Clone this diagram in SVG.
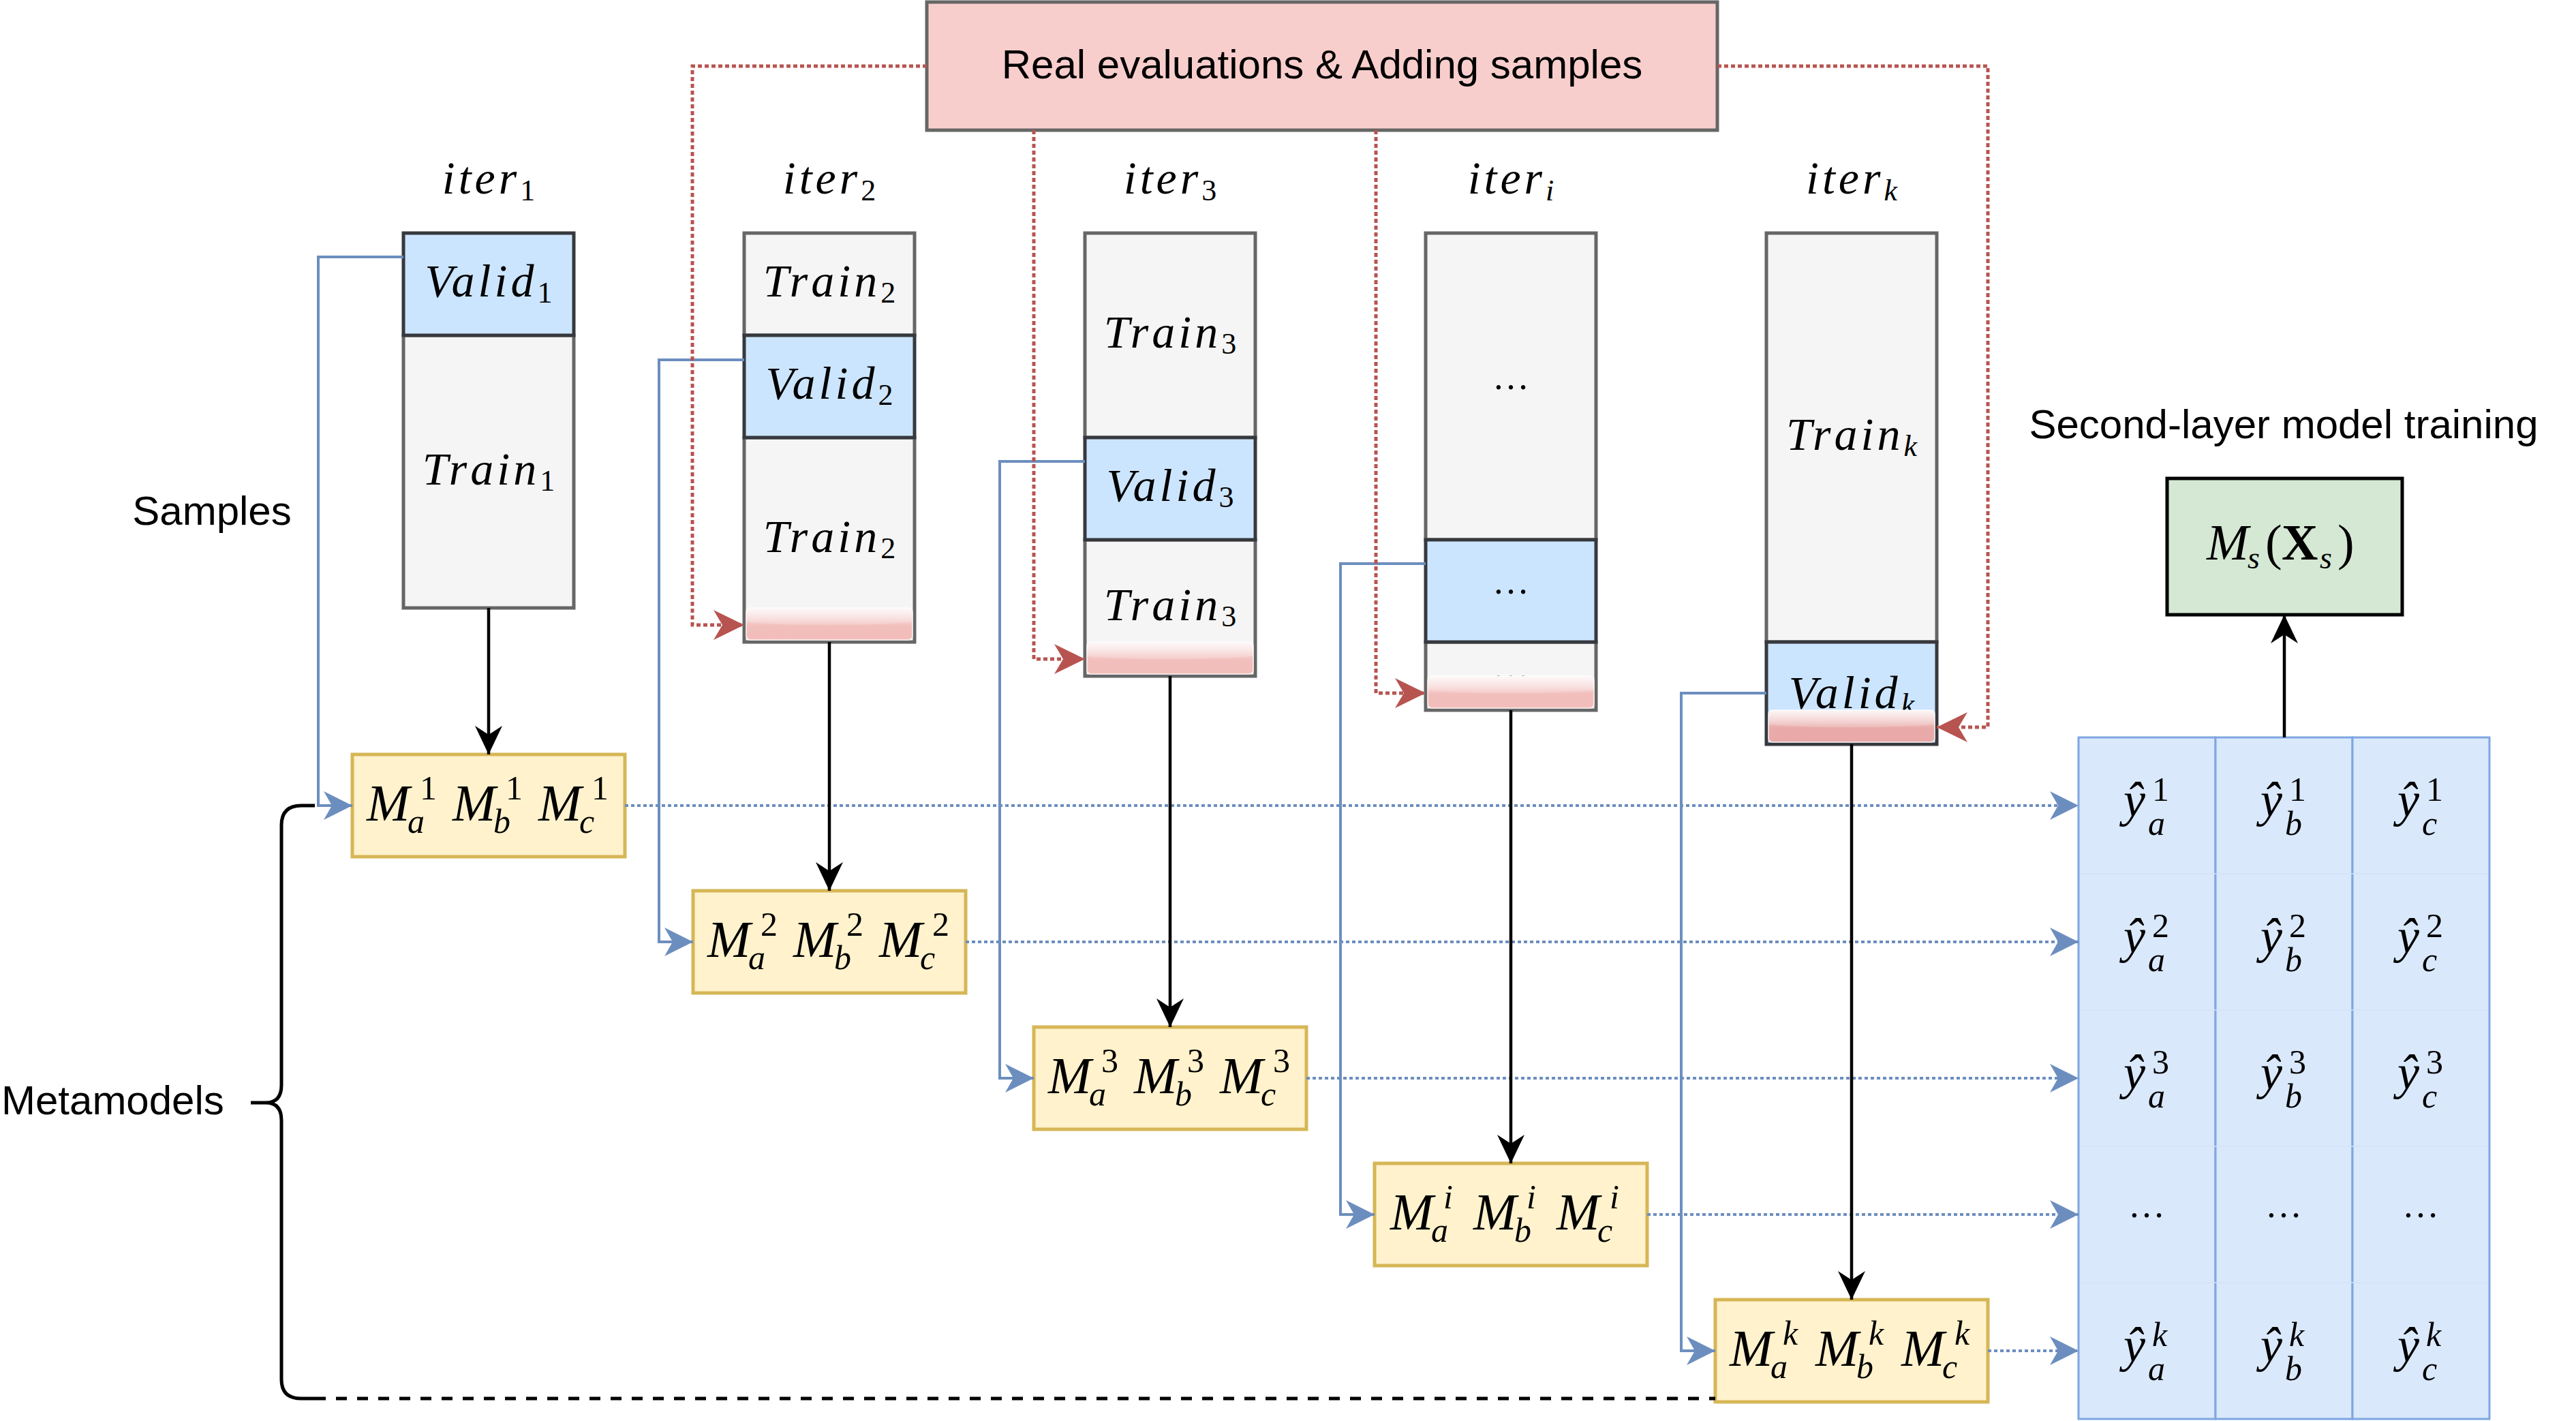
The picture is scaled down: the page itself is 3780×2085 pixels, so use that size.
<svg xmlns="http://www.w3.org/2000/svg" width="3780" height="2085" viewBox="0 0 3780 2085">
<defs>
<style>
.gray{fill:#f5f5f5;stroke:#666666;stroke-width:5}
.blue{fill:#cce5ff;stroke:#36393d;stroke-width:5}
.model{fill:#fff2cc;stroke:#d6b656;stroke-width:5}
.cell{fill:#dae8fc;stroke:#7ea6e0;stroke-width:3}
.rowline{stroke:#d2e2f7;stroke-width:1.5}
.pink{fill:url(#pinkGrad);stroke:#ffffff;stroke-opacity:0.6;stroke-width:2}
.pinkk{fill:url(#pinkGradK);stroke:#ffffff;stroke-opacity:0.6;stroke-width:2}
.glass{fill:url(#glassGrad)}
.sans{font-family:"Liberation Sans",Arial,Helvetica,sans-serif;font-size:60px;fill:#000}
.m{font-family:"Liberation Serif","Times New Roman",serif;font-style:italic;fill:#000}
.seg{font-size:68px;letter-spacing:5px}
.sb{font-size:44px;letter-spacing:0}
.up{font-style:normal}
.mm{font-size:76px}
.ms{font-size:50px}
.dots{font-family:"Liberation Serif","Times New Roman",serif;font-size:54px;fill:#000}
.bdot{fill:none;stroke:#6c8ebf;stroke-width:4;stroke-dasharray:5 4}
.bsol{fill:none;stroke:#6c8ebf;stroke-width:4}
.rdot{fill:none;stroke:#b85450;stroke-width:5;stroke-dasharray:6 4}
.blk{fill:none;stroke:#000;stroke-width:4.5}
</style>
<linearGradient id="pinkGrad" x1="0" y1="0" x2="0" y2="1">
<stop offset="0" stop-color="#f8dede"/><stop offset="0.5" stop-color="#f3c6c4"/><stop offset="0.55" stop-color="#f2bfbc"/><stop offset="1" stop-color="#f2bdba"/>
</linearGradient>
<linearGradient id="pinkGradK" x1="0" y1="0" x2="0" y2="1">
<stop offset="0" stop-color="#f2cfcf"/><stop offset="0.5" stop-color="#ebb3b2"/><stop offset="0.55" stop-color="#e9abaa"/><stop offset="1" stop-color="#e8a9a8"/>
</linearGradient>
<linearGradient id="glassGrad" x1="0" y1="0" x2="0" y2="1">
<stop offset="0" stop-color="#ffffff" stop-opacity="0.8"/><stop offset="1" stop-color="#ffffff" stop-opacity="0.1"/>
</linearGradient>
<marker id="arB" markerUnits="userSpaceOnUse" viewBox="-46 -24 50 48" markerWidth="50" markerHeight="48" refX="0" refY="0" orient="auto">
<path d="M0,0 L-42,-21 L-30,0 L-42,21 Z" fill="#6c8ebf"/>
</marker>
<marker id="arK" markerUnits="userSpaceOnUse" viewBox="-46 -24 50 48" markerWidth="50" markerHeight="48" refX="0" refY="0" orient="auto">
<path d="M0,0 L-42,-20 L-29,0 L-42,20 Z" fill="#000"/>
</marker>
<marker id="arR" markerUnits="userSpaceOnUse" viewBox="-48 -25 52 50" markerWidth="52" markerHeight="50" refX="0" refY="0" orient="auto">
<path d="M0,0 L-45,-22 L-32,0 L-45,22 Z" fill="#b85450"/>
</marker>
</defs>
<rect x="0" y="0" width="3780" height="2085" fill="#ffffff"/>

<g id="labels">
<text class="sans" x="311" y="770" text-anchor="middle">Samples</text>
<text class="sans" x="2" y="1635">Metamodels</text>
<text class="sans" x="3351" y="643" text-anchor="middle">Second-layer model training</text>
<text class="m seg" x="717" y="284" text-anchor="middle">iter<tspan class="sb up" dy="10">1</tspan></text>
<text class="m seg" x="1217" y="284" text-anchor="middle">iter<tspan class="sb up" dy="10">2</tspan></text>
<text class="m seg" x="1717" y="284" text-anchor="middle">iter<tspan class="sb up" dy="10">3</tspan></text>
<text class="m seg" x="2217" y="284" text-anchor="middle">iter<tspan class="sb" dy="10">i</tspan></text>
<text class="m seg" x="2717" y="284" text-anchor="middle">iter<tspan class="sb" dy="10">k</tspan></text>
</g>

<g id="evalbox">
<rect x="1360" y="3" width="1160" height="188" fill="#f8cecc" stroke="#666666" stroke-width="5"/>
<text class="sans" x="1940" y="115" text-anchor="middle">Real evaluations &amp; Adding samples</text>
</g>

<g id="col1">
<rect class="gray" x="592" y="492" width="250" height="400"/>
<rect class="blue" x="592" y="342" width="250" height="150"/>
<text class="m seg" x="717" y="435" text-anchor="middle">Valid<tspan class="sb up" dy="9">1</tspan></text>
<text class="m seg" x="717" y="711" text-anchor="middle">Train<tspan class="sb up" dy="9">1</tspan></text>
</g>

<g id="col2">
<rect class="gray" x="1092" y="342" width="250" height="150"/>
<rect class="gray" x="1092" y="642" width="250" height="300"/>
<rect class="blue" x="1092" y="492" width="250" height="150"/>
<text class="m seg" x="1217" y="435" text-anchor="middle">Train<tspan class="sb up" dy="9">2</tspan></text>
<text class="m seg" x="1217" y="585" text-anchor="middle">Valid<tspan class="sb up" dy="9">2</tspan></text>
<text class="m seg" x="1217" y="810" text-anchor="middle">Train<tspan class="sb up" dy="9">2</tspan></text>
<rect class="pink" x="1095" y="892" width="244" height="47" rx="6"/>
<path class="glass" d="M1095,898 Q1095,892 1101,892 H1333 Q1339,892 1339,898 V913 Q1217,922 1095,913 Z"/>
</g>

<g id="col3">
<rect class="gray" x="1592" y="342" width="250" height="300"/>
<rect class="gray" x="1592" y="792" width="250" height="200"/>
<rect class="blue" x="1592" y="642" width="250" height="150"/>
<text class="m seg" x="1717" y="510" text-anchor="middle">Train<tspan class="sb up" dy="9">3</tspan></text>
<text class="m seg" x="1717" y="735" text-anchor="middle">Valid<tspan class="sb up" dy="9">3</tspan></text>
<text class="m seg" x="1717" y="910" text-anchor="middle">Train<tspan class="sb up" dy="9">3</tspan></text>
<rect class="pink" x="1595" y="942" width="244" height="47" rx="6"/>
<path class="glass" d="M1595,948 Q1595,942 1601,942 H1833 Q1839,942 1839,948 V963 Q1717,972 1595,963 Z"/>
</g>

<g id="coli">
<rect class="gray" x="2092" y="342" width="250" height="450"/>
<rect class="gray" x="2092" y="942" width="250" height="100"/>
<rect class="blue" x="2092" y="792" width="250" height="150"/>
<text class="dots" x="2217" y="571" text-anchor="middle">…</text>
<text class="dots" x="2217" y="871" text-anchor="middle">…</text>
<text class="dots" x="2217" y="997" text-anchor="middle">…</text>
<rect class="pink" x="2095" y="992" width="244" height="47" rx="6"/>
<path class="glass" d="M2095,998 Q2095,992 2101,992 H2333 Q2339,992 2339,998 V1013 Q2217,1022 2095,1013 Z"/>
</g>

<g id="colk">
<rect class="gray" x="2592" y="342" width="250" height="600"/>
<rect class="blue" x="2592" y="942" width="250" height="150"/>
<text class="m seg" x="2717" y="660" text-anchor="middle">Train<tspan class="sb" dy="9">k</tspan></text>
<text class="m seg" x="2717" y="1039" text-anchor="middle">Valid<tspan class="sb" dy="9">k</tspan></text>
<rect class="pinkk" x="2595" y="1042" width="244" height="47" rx="6"/>
<path class="glass" d="M2595,1048 Q2595,1042 2601,1042 H2833 Q2839,1042 2839,1048 V1063 Q2717,1072 2595,1063 Z"/>
</g>

<g id="m1">
<rect class="model" x="517" y="1107" width="400" height="150"/>
<text class="m"><tspan class="mm" x="538" y="1204">M</tspan><tspan class="ms" x="598" y="1222">a</tspan><tspan class="ms up" x="616" y="1173">1</tspan><tspan class="mm" x="664" y="1204">M</tspan><tspan class="ms" x="724" y="1222">b</tspan><tspan class="ms up" x="742" y="1173">1</tspan><tspan class="mm" x="790" y="1204">M</tspan><tspan class="ms" x="850" y="1222">c</tspan><tspan class="ms up" x="868" y="1173">1</tspan></text>
</g>
<g id="m2">
<rect class="model" x="1017" y="1307" width="400" height="150"/>
<text class="m"><tspan class="mm" x="1038" y="1404">M</tspan><tspan class="ms" x="1098" y="1422">a</tspan><tspan class="ms up" x="1116" y="1373">2</tspan><tspan class="mm" x="1164" y="1404">M</tspan><tspan class="ms" x="1224" y="1422">b</tspan><tspan class="ms up" x="1242" y="1373">2</tspan><tspan class="mm" x="1290" y="1404">M</tspan><tspan class="ms" x="1350" y="1422">c</tspan><tspan class="ms up" x="1368" y="1373">2</tspan></text>
</g>
<g id="m3">
<rect class="model" x="1517" y="1507" width="400" height="150"/>
<text class="m"><tspan class="mm" x="1538" y="1604">M</tspan><tspan class="ms" x="1598" y="1622">a</tspan><tspan class="ms up" x="1616" y="1573">3</tspan><tspan class="mm" x="1664" y="1604">M</tspan><tspan class="ms" x="1724" y="1622">b</tspan><tspan class="ms up" x="1742" y="1573">3</tspan><tspan class="mm" x="1790" y="1604">M</tspan><tspan class="ms" x="1850" y="1622">c</tspan><tspan class="ms up" x="1868" y="1573">3</tspan></text>
</g>
<g id="mi">
<rect class="model" x="2017" y="1707" width="400" height="150"/>
<text class="m"><tspan class="mm" x="2040" y="1804">M</tspan><tspan class="ms" x="2100" y="1822">a</tspan><tspan class="ms" x="2118" y="1773">i</tspan><tspan class="mm" x="2162" y="1804">M</tspan><tspan class="ms" x="2222" y="1822">b</tspan><tspan class="ms" x="2240" y="1773">i</tspan><tspan class="mm" x="2284" y="1804">M</tspan><tspan class="ms" x="2344" y="1822">c</tspan><tspan class="ms" x="2362" y="1773">i</tspan></text>
</g>
<g id="mk">
<rect class="model" x="2517" y="1907" width="400" height="150"/>
<text class="m"><tspan class="mm" x="2538" y="2004">M</tspan><tspan class="ms" x="2598" y="2022">a</tspan><tspan class="ms" x="2616" y="1973">k</tspan><tspan class="mm" x="2664" y="2004">M</tspan><tspan class="ms" x="2724" y="2022">b</tspan><tspan class="ms" x="2742" y="1973">k</tspan><tspan class="mm" x="2790" y="2004">M</tspan><tspan class="ms" x="2850" y="2022">c</tspan><tspan class="ms" x="2868" y="1973">k</tspan></text>
</g>

<g id="table">
<rect class="cell" x="3050" y="1082" width="201" height="1000"/>
<rect class="cell" x="3251" y="1082" width="201" height="1000"/>
<rect class="cell" x="3452" y="1082" width="201" height="1000"/>
<line class="rowline" x1="3052" y1="1282" x2="3651" y2="1282"/>
<line class="rowline" x1="3052" y1="1482" x2="3651" y2="1482"/>
<line class="rowline" x1="3052" y1="1682" x2="3651" y2="1682"/>
<line class="rowline" x1="3052" y1="1882" x2="3651" y2="1882"/>
<text class="m"><tspan font-size="72" x="3116" y="1198">ŷ</tspan><tspan class="ms" x="3152" y="1225">a</tspan><tspan class="ms up" x="3158" y="1175">1</tspan><tspan font-size="72" x="3317" y="1198">ŷ</tspan><tspan class="ms" x="3353" y="1225">b</tspan><tspan class="ms up" x="3359" y="1175">1</tspan><tspan font-size="72" x="3518" y="1198">ŷ</tspan><tspan class="ms" x="3554" y="1225">c</tspan><tspan class="ms up" x="3560" y="1175">1</tspan></text>
<text class="m"><tspan font-size="72" x="3116" y="1398">ŷ</tspan><tspan class="ms" x="3152" y="1425">a</tspan><tspan class="ms up" x="3158" y="1375">2</tspan><tspan font-size="72" x="3317" y="1398">ŷ</tspan><tspan class="ms" x="3353" y="1425">b</tspan><tspan class="ms up" x="3359" y="1375">2</tspan><tspan font-size="72" x="3518" y="1398">ŷ</tspan><tspan class="ms" x="3554" y="1425">c</tspan><tspan class="ms up" x="3560" y="1375">2</tspan></text>
<text class="m"><tspan font-size="72" x="3116" y="1598">ŷ</tspan><tspan class="ms" x="3152" y="1625">a</tspan><tspan class="ms up" x="3158" y="1575">3</tspan><tspan font-size="72" x="3317" y="1598">ŷ</tspan><tspan class="ms" x="3353" y="1625">b</tspan><tspan class="ms up" x="3359" y="1575">3</tspan><tspan font-size="72" x="3518" y="1598">ŷ</tspan><tspan class="ms" x="3554" y="1625">c</tspan><tspan class="ms up" x="3560" y="1575">3</tspan></text>
<text class="dots" x="3150" y="1786" text-anchor="middle">…</text>
<text class="dots" x="3351" y="1786" text-anchor="middle">…</text>
<text class="dots" x="3552" y="1786" text-anchor="middle">…</text>
<text class="m"><tspan font-size="72" x="3116" y="1998">ŷ</tspan><tspan class="ms" x="3152" y="2025">a</tspan><tspan class="ms" x="3158" y="1975">k</tspan><tspan font-size="72" x="3317" y="1998">ŷ</tspan><tspan class="ms" x="3353" y="2025">b</tspan><tspan class="ms" x="3359" y="1975">k</tspan><tspan font-size="72" x="3518" y="1998">ŷ</tspan><tspan class="ms" x="3554" y="2025">c</tspan><tspan class="ms" x="3560" y="1975">k</tspan></text>
</g>

<g id="ms">
<rect x="3180" y="702" width="345" height="200" fill="#d5e8d4" stroke="#000000" stroke-width="5"/>
<text class="m" font-size="74" y="821"><tspan x="3238">M</tspan><tspan x="3298" y="834" font-size="46">s</tspan><tspan class="up" x="3324" y="821">(</tspan><tspan class="up" x="3348" font-weight="bold">X</tspan><tspan x="3404" y="834" font-size="46">s</tspan><tspan class="up" x="3430" y="821">)</tspan></text>
</g>

<g id="connectors">
<path class="bdot" d="M917,1182 H3050" marker-end="url(#arB)"/>
<path class="bdot" d="M1417,1382 H3050" marker-end="url(#arB)"/>
<path class="bdot" d="M1917,1582 H3050" marker-end="url(#arB)"/>
<path class="bdot" d="M2417,1782 H3050" marker-end="url(#arB)"/>
<path class="bdot" d="M2917,1982 H3050" marker-end="url(#arB)"/>
<path class="blk" d="M717,892 V1107" marker-end="url(#arK)"/>
<path class="blk" d="M1217,942 V1307" marker-end="url(#arK)"/>
<path class="blk" d="M1717,992 V1507" marker-end="url(#arK)"/>
<path class="blk" d="M2217,1042 V1707" marker-end="url(#arK)"/>
<path class="blk" d="M2717,1092 V1907" marker-end="url(#arK)"/>
<path class="blk" d="M3352,1082 V902" marker-end="url(#arK)"/>
<path class="bsol" d="M592,377 H467 V1182 H517" marker-end="url(#arB)"/>
<path class="bsol" d="M1092,528 H967 V1382 H1017" marker-end="url(#arB)"/>
<path class="bsol" d="M1592,677 H1467 V1582 H1517" marker-end="url(#arB)"/>
<path class="bsol" d="M2092,827 H1967 V1782 H2017" marker-end="url(#arB)"/>
<path class="bsol" d="M2592,1017 H2467 V1982 H2517" marker-end="url(#arB)"/>
<path class="rdot" d="M1360,97 H1016 V917 H1092" marker-end="url(#arR)"/>
<path class="rdot" d="M1517,191 V967 H1592" marker-end="url(#arR)"/>
<path class="rdot" d="M2019,191 V1017 H2092" marker-end="url(#arR)"/>
<path class="rdot" d="M2520,97 H2917 V1067 H2842" marker-end="url(#arR)"/>
<path d="M462,1182 H442 Q413,1182 413,1211 V1592 Q413,1618 390,1618 H368 M390,1618 Q413,1618 413,1644 V2024 Q413,2052 442,2052 H462" fill="none" stroke="#000" stroke-width="5"/>
<path d="M462,2052 H2517" fill="none" stroke="#000" stroke-width="5" stroke-dasharray="16 15"/>
</g>
</svg>
